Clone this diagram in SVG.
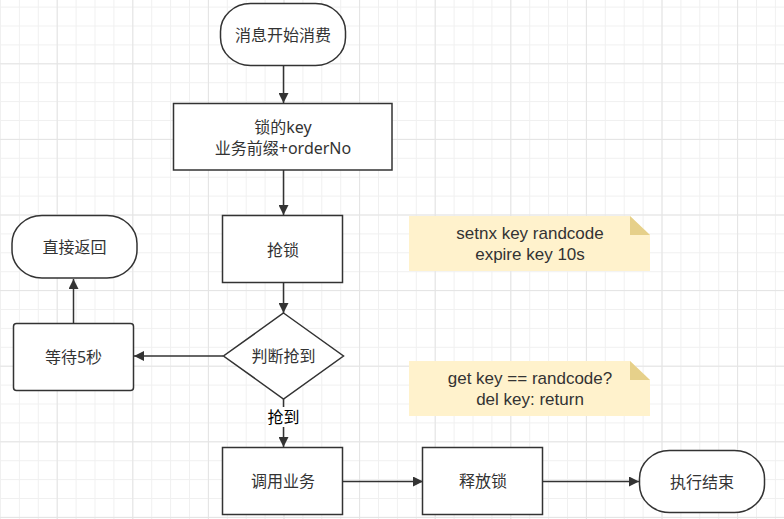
<svg xmlns="http://www.w3.org/2000/svg" width="784" height="519" viewBox="0 0 784 519">
<defs>
<pattern id="gMinor" patternUnits="userSpaceOnUse" x="56.7" y="63.3" width="18.9" height="18.9">
<rect x="0" y="0" width="1" height="18.9" fill="#f0f0f0"/>
<rect x="0" y="0" width="18.9" height="1" fill="#f0f0f0"/>
</pattern>
<pattern id="gMajor" patternUnits="userSpaceOnUse" x="56.7" y="63.3" width="75.6" height="75.6">
<rect x="0" y="0" width="1" height="75.6" fill="#e4e4e4"/>
<rect x="0" y="0" width="75.6" height="1" fill="#e4e4e4"/>
</pattern>
<marker id="arr" viewBox="0 0 10 10" refX="10" refY="5" markerWidth="10" markerHeight="10" markerUnits="userSpaceOnUse" orient="auto">
<path d="M0,0 L10,5 L0,10 Z" fill="#333"/>
</marker>
<style>
.shape{fill:#fff;stroke:#333;stroke-width:1.5}
.note{fill:#fff2cc}
.fold{fill:#e6d08a}
.t{font-family:"Noto Sans","Noto Sans CJK SC",sans-serif;font-size:16px;fill:#333;text-anchor:middle;dominant-baseline:central}
.n{font-family:"Liberation Sans","Noto Sans CJK SC",sans-serif;font-size:17px;fill:#333;text-anchor:middle;dominant-baseline:central}
.e{fill:none;stroke:#333;stroke-width:1.5;marker-end:url(#arr)}
</style>
</defs>
<rect width="784" height="519" fill="#fff"/>
<rect width="784" height="519" fill="url(#gMinor)"/>
<rect width="784" height="519" fill="url(#gMajor)"/>

<g id="connectors">
<path class="e" d="M283.5,65 V103"/>
<path class="e" d="M283.5,170 V215"/>
<path class="e" d="M283.5,283 V313"/>
<path class="e" d="M223,356 H134"/>
<path class="e" d="M73.5,323 V279"/>
<path class="e" d="M283.5,399 V447"/>
<path class="e" d="M343,481.5 H423"/>
<path class="e" d="M543,481.5 H639"/>
<g id="label-qiangdao">
<rect x="267" y="407" width="33" height="20" fill="#fff"/>
<text class="t" x="283.5" y="417" style="fill:#000">抢到</text>
</g>
</g>

<g id="start">
<rect class="shape" x="220.5" y="3.5" width="125" height="62" rx="30" ry="28"/>
<text class="t" x="283" y="34.5">消息开始消费</text>
</g>
<g id="lockkey">
<rect class="shape" x="173.5" y="103.5" width="218.5" height="66.5"/>
<text class="t" x="283" y="127">锁的key</text>
<text class="t" x="283" y="148">业务前缀+orderNo</text>
</g>
<g id="grab">
<rect class="shape" x="222.5" y="215.5" width="120" height="67"/>
<text class="t" x="283" y="249.5">抢锁</text>
</g>
<g id="decide">
<path class="shape" d="M283.5,313 L343.5,356 L283.5,399 L223.5,356 Z"/>
<text class="t" x="283.5" y="356">判断抢到</text>
</g>
<g id="wait">
<rect class="shape" x="13.5" y="323.5" width="120" height="67" rx="3"/>
<text class="t" x="73.5" y="356.5">等待5秒</text>
</g>
<g id="return">
<rect class="shape" x="12" y="215.5" width="125" height="62.5" rx="30" ry="28"/>
<text class="t" x="74.5" y="247">直接返回</text>
</g>
<g id="call">
<rect class="shape" x="222.5" y="447.5" width="120" height="67"/>
<text class="t" x="283" y="481">调用业务</text>
</g>
<g id="release">
<rect class="shape" x="422.5" y="447.5" width="120" height="67"/>
<text class="t" x="483" y="481">释放锁</text>
</g>
<g id="end">
<rect class="shape" x="639.5" y="450.5" width="125" height="62" rx="30" ry="28"/>
<text class="t" x="702" y="481.5">执行结束</text>
</g>
<g id="note1">
<path class="note" d="M409,216 H630 L650,235 V271 H409 Z"/>
<path class="fold" d="M630,216 L650,235 H630 Z"/>
<text class="n" x="530" y="233.5">setnx key randcode</text>
<text class="n" x="530" y="254">expire key 10s</text>
</g>
<g id="note2">
<path class="note" d="M409,361 H630 L650,380 V416 H409 Z"/>
<path class="fold" d="M630,361 L650,380 H630 Z"/>
<text class="n" x="530" y="378.5">get key == randcode?</text>
<text class="n" x="530" y="399">del key: return</text>
</g>
</svg>
